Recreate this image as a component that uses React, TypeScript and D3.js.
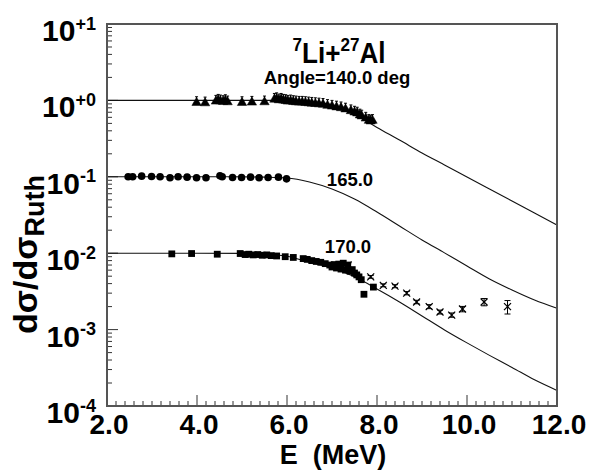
import React from 'react';
import * as d3 from 'd3';

const W = 589, H = 470;
const M = { left: 107, top: 24, right: 557, bottom: 406 };
const FONT = "'Liberation Sans', Arial, Helvetica, sans-serif";

const xTickValues = [2, 4, 6, 8, 10, 12];
const xTickLabels = ['2.0', '4.0', '6.0', '8.0', '10.0', '12.0'];
const yDecadeExps = [1, 0, -1, -2, -3, -4];
const yTickLabels = ['+1', '+0', '-1', '-2', '-3', '-4'];

// theoretical curves
const curveE = [2, 3, 4, 5, 5.5, 6, 6.5, 7, 7.5, 8, 8.5, 9, 9.5, 10, 10.5, 11, 11.5, 12];
const curve140 = [1, 1, 1, 1, 1, 1.0, 0.967, 0.871, 0.664, 0.442, 0.303, 0.205, 0.143, 0.0994, 0.0692, 0.0482, 0.0336, 0.0234];
const curve165 = [0.1, 0.1, 0.1, 0.1, 0.099, 0.0965, 0.0855, 0.0692, 0.0512, 0.0346, 0.0227, 0.0149, 0.0101, 0.0068, 0.0046, 0.0033, 0.00244, 0.0019];
const curve170 = [0.01, 0.01, 0.01, 0.00995, 0.0097, 0.0091, 0.0076, 0.0064, 0.0049, 0.0034, 0.0023, 0.00151, 0.00099, 0.00067, 0.00046, 0.00032, 0.00022, 0.00016];

// 140 deg data (triangles)
const tri140E = [3.99, 4.18, 4.42, 4.47, 4.52, 4.58, 4.63, 4.68, 5.0, 5.22, 5.5, 5.72, 5.77, 5.82, 5.87, 5.92, 5.97, 6.02, 6.08, 6.14, 6.2, 6.27, 6.34, 6.41, 6.48, 6.55, 6.63, 6.71, 6.8, 6.9, 7.0, 7.1, 7.2, 7.3, 7.42, 7.5, 7.56, 7.62, 7.66, 7.75, 7.82, 7.86, 7.9];
const tri140V = [0.96, 0.95, 1.0, 1.03, 1.01, 0.99, 1.02, 0.98, 0.96, 0.97, 0.98, 1.06, 1.08, 1.04, 1.06, 1.03, 1.02, 1.0, 1.01, 0.99, 0.98, 0.97, 0.97, 0.96, 0.95, 0.94, 0.93, 0.92, 0.91, 0.88, 0.86, 0.84, 0.82, 0.79, 0.75, 0.72, 0.7, 0.66, 0.64, 0.6, 0.56, 0.55, 0.56];

// 165 deg data (circles)
const cir165E = [2.47, 2.57, 2.77, 2.99, 3.18, 3.4, 3.58, 3.78, 3.99, 4.2, 4.51, 4.56, 4.79, 4.99, 5.19, 5.38, 5.58, 5.81, 5.99];
const cir165V = [0.1, 0.1, 0.102, 0.101, 0.1, 0.097, 0.1, 0.099, 0.097, 0.097, 0.103, 0.1, 0.098, 0.098, 0.099, 0.097, 0.098, 0.099, 0.094];

// 170 deg data (squares)
const sq170E = [3.44, 3.88, 4.45, 4.96, 5.07, 5.15, 5.25, 5.35, 5.45, 5.55, 5.65, 5.77, 5.96, 6.14, 6.36, 6.45, 6.55, 6.65, 6.75, 6.85, 6.95, 7.0, 7.05, 7.1, 7.15, 7.2, 7.25, 7.3, 7.35, 7.4, 7.45, 7.5, 7.55, 7.6, 7.65, 7.71, 7.92];
const sq170V = [0.0098, 0.0099, 0.0097, 0.0099, 0.0096, 0.0097, 0.0095, 0.0096, 0.0094, 0.0095, 0.0093, 0.0092, 0.009, 0.0088, 0.0085, 0.0083, 0.008, 0.0078, 0.0076, 0.0073, 0.007, 0.0066, 0.0071, 0.0064, 0.0072, 0.0062, 0.0074, 0.006, 0.007, 0.0058, 0.0061, 0.0055, 0.0052, 0.0049, 0.0045, 0.0029, 0.0036];

// 170 deg data (crosses, with errors)
const x170E = [7.36, 7.86, 8.14, 8.4, 8.66, 8.88, 9.16, 9.4, 9.66, 9.9, 10.38, 10.9];
const x170V = [0.007, 0.0049, 0.0038, 0.0037, 0.003, 0.0023, 0.002, 0.0017, 0.00155, 0.00186, 0.0023, 0.002];
const x170Err = [0.0003, 0.0002, 0.00017, 0.00017, 0.00015, 0.00012, 0.00012, 0.0001, 0.0001, 0.00015, 0.00025, 0.0004];

export default function App() {
  const x = d3.scaleLinear().domain([2, 12]).range([M.left, M.right]);
  const y = d3.scaleLog().domain([1e-4, 10]).range([M.bottom, M.top]);

  const line = d3
    .line<[number, number]>()
    .x((d) => x(d[0]))
    .y((d) => y(d[1]))
    .curve(d3.curveMonotoneX);

  const curves = [curve140, curve165, curve170].map((c) => line(curveE.map((e, i) => [e, c[i]] as [number, number])) || '');

  const xMinor = d3.range(2, 12.001, 0.2);
  const yMinor: number[] = [];
  for (let p = -4; p < 1; p++) for (let k = 2; k <= 9; k++) yMinor.push(k * Math.pow(10, p));

  const tri = d3.symbol().type(d3.symbolTriangle).size(38)() || '';

  return (
    <svg width={W} height={H} style={{ position: 'absolute', left: 0, top: 0, background: '#fff' }} fontFamily={FONT}>
      <rect x={0} y={0} width={W} height={H} fill="#fff" />
      {/* ticks */}
      <g stroke="#333" strokeWidth={1}>
        {xMinor.map((v, i) => {
          const major = Math.abs(v - Math.round(v)) < 1e-6 && Math.round(v) % 2 === 0;
          return <line key={'xm' + i} x1={x(v)} x2={x(v)} y1={M.bottom} y2={M.bottom - (major ? 11 : 5)} />;
        })}
        {yMinor.map((v, i) => (
          <line key={'ym' + i} x1={M.left} x2={M.left + 5} y1={y(v)} y2={y(v)} />
        ))}
        {yDecadeExps.map((p) => (
          <line key={'yM' + p} x1={M.left} x2={M.left + 11} y1={y(Math.pow(10, p))} y2={y(Math.pow(10, p))} />
        ))}
      </g>
      {/* curves */}
      <g fill="none" stroke="#111" strokeWidth={1.1}>
        {curves.map((d, i) => (
          <path key={'c' + i} d={d} />
        ))}
      </g>
      {/* triangles */}
      <g fill="#000" stroke="#000">
        {tri140E.map((e, i) => {
          const cx = x(e), cy = y(tri140V[i]);
          return (
            <g key={'t' + i}>
              <line x1={cx} x2={cx} y1={cy - 5} y2={cy + 3} strokeWidth={1} />
              <line x1={cx - 1.5} x2={cx + 1.5} y1={cy - 5} y2={cy - 5} strokeWidth={1} />
              <path d={tri} transform={`translate(${cx},${cy + 1})`} strokeWidth={0.5} />
            </g>
          );
        })}
      </g>
      {/* circles */}
      <g fill="#000">
        {cir165E.map((e, i) => (
          <circle key={'ci' + i} cx={x(e)} cy={y(cir165V[i])} r={3.8} />
        ))}
      </g>
      {/* squares */}
      <g fill="#000">
        {sq170E.map((e, i) => (
          <rect key={'s' + i} x={x(e) - 3.4} y={y(sq170V[i]) - 3.4} width={6.8} height={6.8} />
        ))}
      </g>
      {/* crosses */}
      <g stroke="#000" strokeWidth={1.2} fill="none">
        {x170E.map((e, i) => {
          const cx = x(e), cy = y(x170V[i]);
          const yt = y(x170V[i] + x170Err[i]);
          const yb = y(x170V[i] - x170Err[i]);
          return (
            <g key={'x' + i}>
              <line x1={cx - 3.5} x2={cx + 3.5} y1={cy - 3.5} y2={cy + 3.5} />
              <line x1={cx - 3.5} x2={cx + 3.5} y1={cy + 3.5} y2={cy - 3.5} />
              <line x1={cx} x2={cx} y1={yt} y2={yb} strokeWidth={1} />
              <line x1={cx - 3} x2={cx + 3} y1={yt} y2={yt} strokeWidth={1} />
              <line x1={cx - 3} x2={cx + 3} y1={yb} y2={yb} strokeWidth={1} />
            </g>
          );
        })}
      </g>
      {/* frame */}
      <rect x={M.left} y={M.top} width={M.right - M.left} height={M.bottom - M.top} fill="none" stroke="#555" strokeWidth={2} />
      {/* x tick labels */}
      {xTickValues.map((v, i) => (
        <text key={'xl' + i} x={x(v) + 2} y={434} textAnchor="middle" fontSize={28} fontWeight="bold" fill="#000">
          {xTickLabels[i]}
        </text>
      ))}
      {/* y tick labels */}
      {yDecadeExps.map((p, i) => {
        const ty = y(Math.pow(10, p));
        return (
          <text key={'yl' + i} x={96} y={ty + 17} textAnchor="end" fontWeight="bold" fill="#000">
            <tspan fontSize={30}>10</tspan>
            <tspan fontSize={18} dy={-11.5}>{yTickLabels[i]}</tspan>
          </text>
        );
      })}
      {/* axis titles */}
      <text x={333} y={464} textAnchor="middle" fontSize={27} fontWeight="bold" fill="#000" style={{ whiteSpace: 'pre' }}>
        {'E  (MeV)'}
      </text>
      <text transform="translate(37,334) rotate(-90)" textAnchor="start" fontWeight="bold" fill="#000">
        <tspan fontSize={34}>dσ/dσ</tspan>
        <tspan fontSize={27} dy={7}>Ruth</tspan>
      </text>
      {/* annotations */}
      <g transform="translate(339,63) scale(0.9,1)">
        <text x={0} y={0} textAnchor="middle" fontWeight="bold" fill="#000">
          <tspan fontSize={19} dy={-12}>7</tspan>
          <tspan fontSize={29} dy={12}>Li+</tspan>
          <tspan fontSize={19} dy={-12}>27</tspan>
          <tspan fontSize={29} dy={12}>Al</tspan>
        </text>
      </g>
      <text x={337} y={84} textAnchor="middle" fontSize={18.5} fontWeight="bold" fill="#000">
        Angle=140.0 deg
      </text>
      <text x={350} y={186} textAnchor="middle" fontSize={18.5} fontWeight="bold" fill="#000">
        165.0
      </text>
      <text x={348} y={253} textAnchor="middle" fontSize={18.5} fontWeight="bold" fill="#000">
        170.0
      </text>
    </svg>
  );
}
